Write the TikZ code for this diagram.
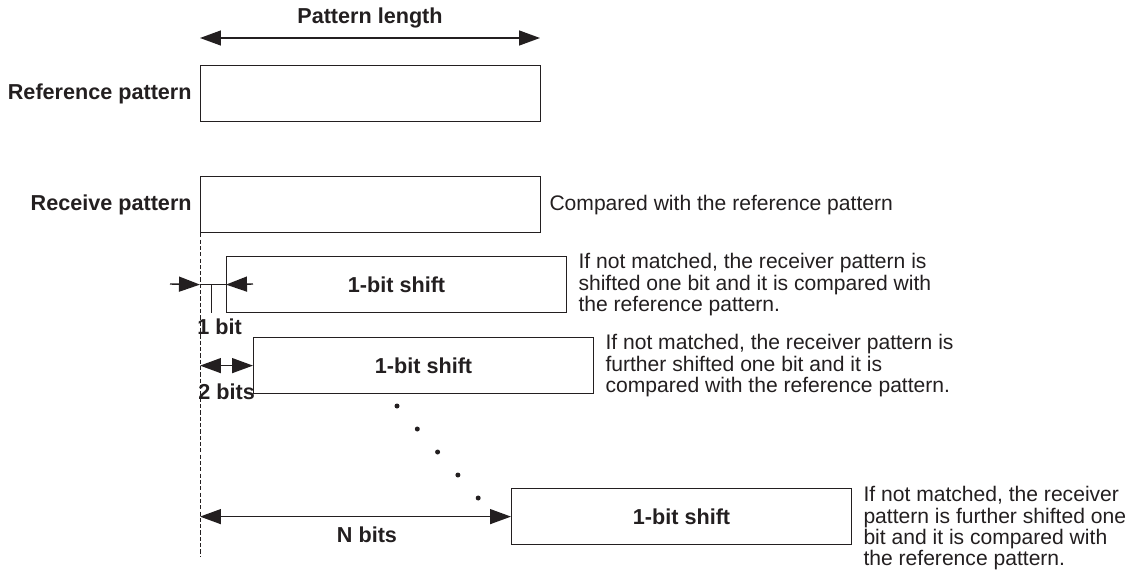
\documentclass[tikz,border=0pt]{standalone}
\usepackage{fontspec}
\setmainfont{Liberation Sans}
\usetikzlibrary{arrows.meta,
                positioning,
                calc}
\definecolor{ink}{RGB}{35,31,32}
\tikzset{
  patbox/.style={draw=ink, line width=0.7pt, minimum width=6.8cm, minimum height=1.12cm,
                 inner sep=0pt, anchor=north west, text=ink, font=\fontsize{12.3}{12.2}\selectfont\bfseries},
  lbl/.style={text=ink, inner sep=0pt, font=\fontsize{12}{12.2}\selectfont},
  blbl/.style={text=ink, inner sep=0pt, font=\fontsize{12.3}{12.2}\selectfont\bfseries},
  tip/.style={draw=ink, line width=0.8pt, -{Triangle[length=0.42cm,width=0.3cm]}},
  dimarr/.style={draw=ink, line width=0.8pt, {Triangle[length=0.42cm,width=0.3cm]}-{Triangle[length=0.42cm,width=0.3cm]}},
}
\begin{document}
\begin{tikzpicture}[x=0.02cm, y=-0.02cm]
    \useasboundingbox (0,0) rectangle (1143,578);

    % The pattern boxes
    \node[patbox] (refbox) at (200,65) {};
    \node[patbox] (recvbox) at (200,176) {};
    \node[patbox] (shift1) at (226,256) {1-bit shift};
    \node[patbox] (shift2) at (253,337) {1-bit shift};
    \node[patbox] (shiftN) at (511,488) {1-bit shift};

    % Pattern length
    \coordinate (pl1) at (200,38);
    \coordinate (pl2) at (540,38);
    \draw[dimarr] (pl1) -- (pl2);
    \node[blbl] (pllbl) at (370,18) {Pattern length};

    % Labels on the left
    \node[blbl, anchor=east] (reflbl) at ($(refbox.west)+(-8,0)$) {Reference pattern};
    \node[blbl, anchor=east] (recvlbl) at ($(recvbox.west)+(-8,0)$) {Receive pattern};

    % The dashed start line
    \coordinate (dbot) at (200,557);
    \draw[ink, line width=0.5pt, dash pattern=on 2.4pt off 1.2pt] (recvbox.south west) -- (dbot);

    % 1 bit
    \coordinate (b1l) at (170,284);
    \coordinate (b1r) at (253,284);
    \draw[tip] (b1l) -- (recvbox.south west |- shift1.west);
    \draw[tip] (b1r) -- (shift1.west);
    \draw[ink, line width=0.8pt] (recvbox.south west |- shift1.west) -- (shift1.west);
    \coordinate (tk1) at (211,284);
    \coordinate (tk2) at (211,313);
    \draw[ink, line width=0.5pt] (tk1) -- (tk2);
    \node[blbl, anchor=west] (bit1) at (197,327) {1 bit};

    % 2 bits
    \draw[dimarr] (recvbox.south west |- shift2.west) -- (shift2.west);
    \node[blbl, anchor=west] (bit2) at (198,392) {2 bits};

    % dots
    \foreach \i in {0,...,4}
        \fill[ink] (397+20.3*\i, 406+23*\i) circle (0.05cm);

    % N bits
    \draw[dimarr] (recvbox.south west |- shiftN.west) -- (shiftN.west);
    \node[blbl] (bitN) at (367,535) {N bits};

    % Notes on the right
    \node[lbl, anchor=west] (cmp) at ($(recvbox.east)+(8,0)$) {Compared with the reference pattern};
    \node[lbl, anchor=west, align=left] (note1) at ($(shift1.east)+(11,0)$)
        {If not matched, the receiver pattern is\\shifted one bit and it is compared with\\the reference pattern.};
    \node[lbl, anchor=west, align=left] (note2) at ($(shift2.east)+(11,0)$)
        {If not matched, the receiver pattern is\\further shifted one bit and it is\\compared with the reference pattern.};
    \node[lbl, anchor=north west, align=left] (note3) at ($(shiftN.north east)+(11,-2)$)
        {If not matched, the receiver\\pattern is further shifted one\\bit and it is compared with\\the reference pattern.};
\end{tikzpicture}
\end{document}
